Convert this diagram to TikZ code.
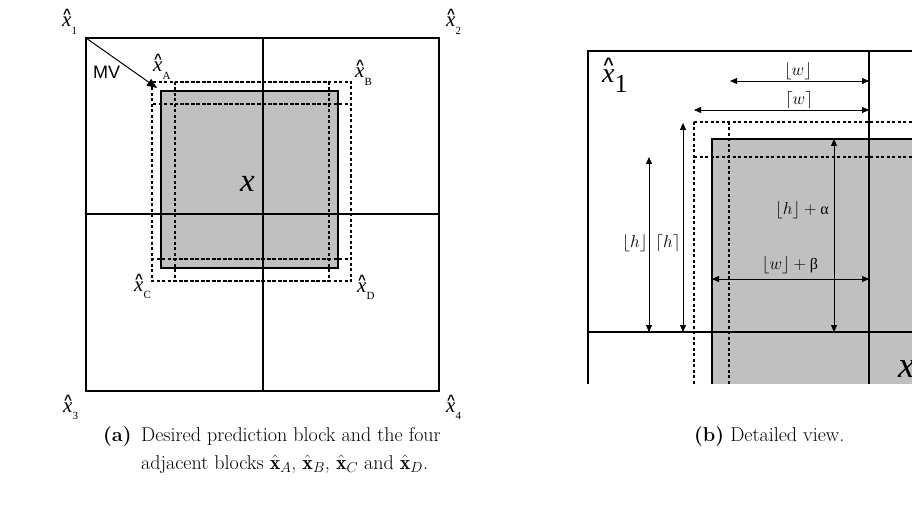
\documentclass[tikz,border=0pt]{standalone}
\usepackage{fontspec}
\usetikzlibrary{arrows.meta}
\newfontfamily\tms{Liberation Serif}
\newfontfamily\arl{Liberation Sans}
\definecolor{blockgray}{HTML}{C0C0C0}
% small x-hat label of panel (a)
\newcommand{\xa}[1]{\rlap{\makebox[9.5pt][c]{\raisebox{8pt}{\fontsize{13.5}{13.5}\arl\bfseries\textasciicircum}}}{\fontsize{21}{21}\tms\itshape x}\raisebox{-7.5pt}{\fontsize{11}{11}\tms #1}}
% large x-hat label of panel (b)
\newcommand{\xb}[1]{\rlap{\makebox[13pt][c]{\raisebox{12pt}{\fontsize{18}{18}\arl\bfseries\textasciicircum}}}{\fontsize{28}{28}\tms\itshape x}\raisebox{-10pt}{\fontsize{26}{26}\tms #1}}
\begin{document}
\begin{tikzpicture}[x=1pt,y=-1pt,
  frame/.style={line width=1.2pt},
  dsh/.style={dash pattern=on 3pt off 2.5pt, line width=1.2pt},
  dimline/.style={line width=0.8pt,{Triangle[length=7pt,width=6pt]}-{Triangle[length=7pt,width=6pt]}},
  lab/.style={inner sep=0pt, anchor=base west},
  dimlab/.style={inner sep=0pt, font=\fontsize{16}{16}\selectfont},
  captext/.style={inner sep=0pt, anchor=base west, font=\fontsize{20}{28}\selectfont}]
\useasboundingbox (0,0) rectangle (912,505);

% ---------------- panel (a) ----------------
\fill[blockgray] (161,91) rectangle (338,268);
\draw[dsh] (152,82) rectangle (329,259);
\draw[dsh] (175,82) rectangle (351,259);
\draw[dsh] (152,104) rectangle (329,281);
\draw[dsh] (175,104) rectangle (351,281);
\draw[frame] (86,38) rectangle (439,391);
\draw[frame] (263,38) -- (263,391);
\draw[frame] (86,214) -- (439,214);
\draw[line width=2pt] (161,91) rectangle (338,268);

\coordinate (c1) at (86,38);
\coordinate (mvtip) at (157,88);
\draw[line width=1pt,-{Triangle[length=10pt,width=8pt]}] (c1) -- (mvtip);
\node[lab] (mv) at (93,79) {\fontsize{18}{18}\arl MV};

\node[lab] (x1) at (62,27) {\xa{1}};
\node[lab] (x2) at (446,27) {\xa{2}};
\node[lab] (x3) at (63,412) {\xa{3}};
\node[lab] (x4) at (446,412) {\xa{4}};
\node[lab] (xA) at (153,72) {\xa{A}};
\node[lab] (xB) at (355,78) {\xa{B}};
\node[lab] (xC) at (134,291) {\xa{C}};
\node[lab] (xD) at (357,292) {\xa{D}};
\node[lab] (xc) at (240,192) {\fontsize{33}{33}\tms\itshape x};

% ---------------- panel (b) ----------------
\begin{scope}
\clip (587,50) rectangle (912,383.5);
\fill[blockgray] (712,139) rectangle (930,400);
\draw[dsh] (694,122) rectangle (940,400);
\draw[dsh] (729,122) -- (729,400);
\draw[dsh] (694,157) -- (940,157);
\draw[line width=1.5pt] (712,400) -- (712,139) -- (940,139);
\draw[line width=1.5pt] (588,400) -- (588,51) -- (940,51);
\draw[line width=1.5pt] (869,51) -- (869,400);
\draw[line width=1.5pt] (588,332) -- (940,332);
\node[lab] (xbig) at (898,377) {\fontsize{37}{37}\tms\itshape x};
\end{scope}
\node[lab] (xb1) at (602,83) {\xb{1}};

\coordinate (w1l) at (730,81);  \coordinate (w1r) at (869,81);
\coordinate (w2l) at (694,110); \coordinate (w2r) at (869,110);
\coordinate (h1t) at (649,157); \coordinate (h1b) at (649,332);
\coordinate (h2t) at (683,123); \coordinate (h2b) at (683,332);
\coordinate (hat) at (834,139); \coordinate (hab) at (834,332);
\coordinate (wbl) at (712,279); \coordinate (wbr) at (869,279);
\draw[dimline] (w1l) -- (w1r);
\draw[dimline] (w2l) -- (w2r);
\draw[dimline] (h1t) -- (h1b);
\draw[dimline] (h2t) -- (h2b);
\draw[dimline] (hat) -- (hab);
\draw[dimline] (wbl) -- (wbr);
\node[dimlab] (lw1) at (798,71) {$\lfloor w\rfloor$};
\node[dimlab] (lw2) at (799,100) {$\lceil w\rceil$};
\node[dimlab] (lh1) at (635,243) {$\lfloor h\rfloor$};
\node[dimlab] (lh2) at (668,243) {$\lceil h\rceil$};
\node[dimlab] (lha) at (802,210) {$\lfloor h\rfloor+\mbox{\tms α}$};
\node[dimlab] (lwb) at (790,265) {$\lfloor w\rfloor+\mbox{\tms β}$};

% ---------------- captions ----------------
\node[captext] (capa) at (103,441) {\textbf{(a)}};
\node[captext] (capa1) at (141,441) {Desired prediction block and the four};
\node[captext] (capa2) at (141,469) {adjacent blocks $\hat{\mathbf{x}}_A$, $\hat{\mathbf{x}}_B$, $\hat{\mathbf{x}}_C$ and $\hat{\mathbf{x}}_D$.};
\node[captext] (capb) at (694,441) {\textbf{(b)} Detailed view.};
\end{tikzpicture}
\end{document}
